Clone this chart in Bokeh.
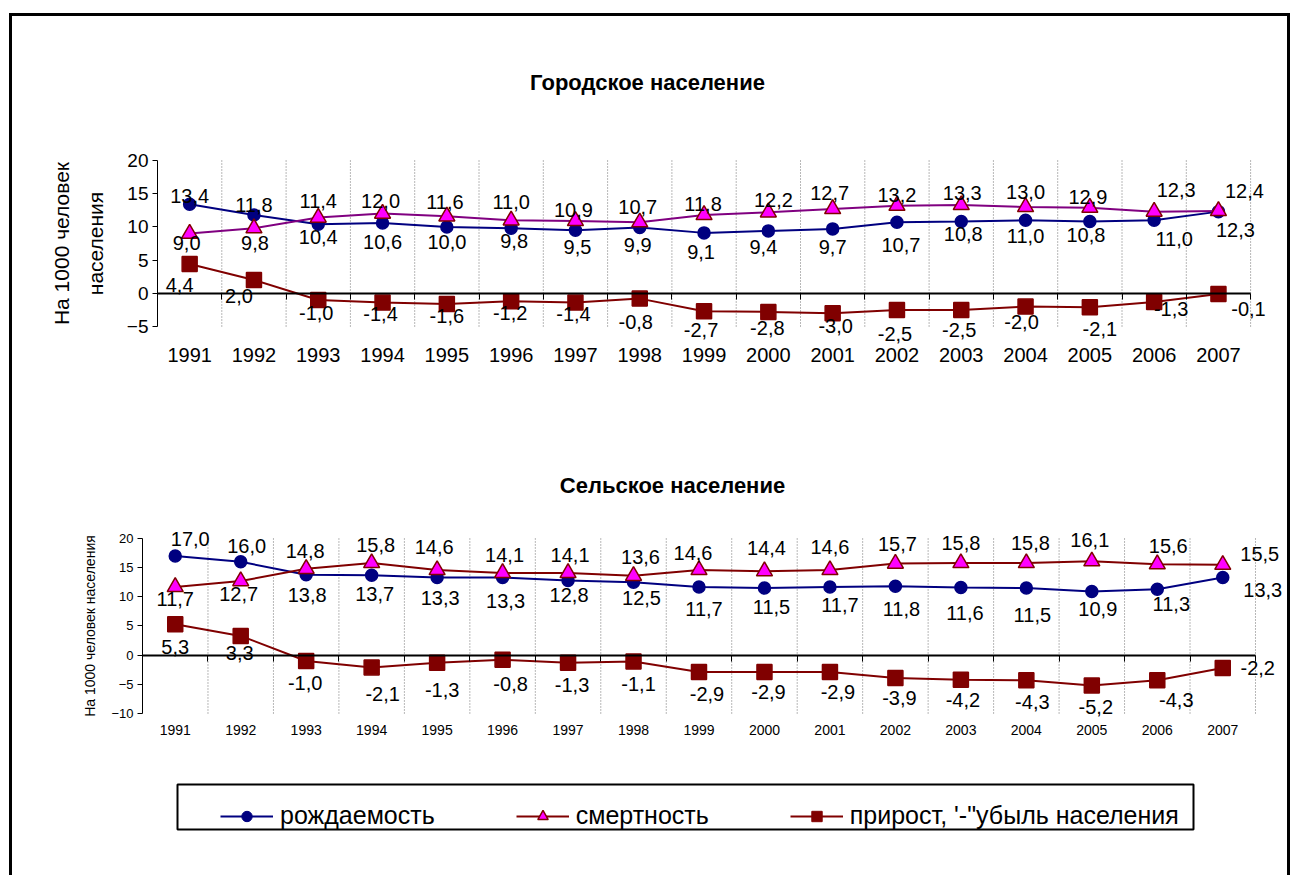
from bokeh.plotting import figure
from bokeh.models import (ColumnDataSource, Range1d, FixedTicker, LinearAxis,
                          Legend, LegendItem, BoxAnnotation)
from bokeh.layouts import column
from bokeh.embed import file_html
from bokeh.resources import INLINE
from bokeh.core.properties import value

# ---------------- data ----------------
years = [str(y) for y in range(1991, 2008)]

urban_births = [13.4, 11.8, 10.4, 10.6, 10.0, 9.8, 9.5, 9.9, 9.1, 9.4, 9.7, 10.7, 10.8, 11.0, 10.8, 11.0, 12.3]
urban_deaths = [9.0, 9.8, 11.4, 12.0, 11.6, 11.0, 10.9, 10.7, 11.8, 12.2, 12.7, 13.2, 13.3, 13.0, 12.9, 12.3, 12.4]
urban_growth = [4.4, 2.0, -1.0, -1.4, -1.6, -1.2, -1.4, -0.8, -2.7, -2.8, -3.0, -2.5, -2.5, -2.0, -2.1, -1.3, -0.1]

rural_births = [17.0, 16.0, 13.8, 13.7, 13.3, 13.3, 12.8, 12.5, 11.7, 11.5, 11.7, 11.8, 11.6, 11.5, 10.9, 11.3, 13.3]
rural_deaths = [11.7, 12.7, 14.8, 15.8, 14.6, 14.1, 14.1, 13.6, 14.6, 14.4, 14.6, 15.7, 15.8, 15.8, 16.1, 15.6, 15.5]
rural_growth = [5.3, 3.3, -1.0, -2.1, -1.3, -0.8, -1.3, -1.1, -2.9, -2.9, -2.9, -3.9, -4.2, -4.3, -5.2, -4.3, -2.2]

urban_yticks = [-5, 0, 5, 10, 15, 20]
rural_yticks = [-10, -5, 0, 5, 10, 15, 20]

title_urban = "Городское население"
title_rural = "Сельское население"
ylabel_urban = "На 1000 человек\nнаселения"
ylabel_rural = "На 1000 человек населения"
legend_labels = ["рождаемость", "смертность", "прирост, '-\"убыль населения"]

# ------------- label placement (pixel offsets, dx right / dy down) -------------
ub_off = [(0, -8), (0, -10), (0, 13), (0, 19), (0, 15), (3, 13), (2, 17), (-2, 17), (-3, 19),
          (-5, 16), (0, 18), (4, 23), (2, 12), (0, 16), (-4, 13), (20, 19), (17, 18)]
ud_off = [(-3, 9), (1, 15), (0, -17), (-2, -13), (-2, -14), (0, -18), (-2, -11), (-2, -15), (-1, -11),
          (5, -12), (-3, -16), (0, -11), (1, -12), (0, -15), (-2, -11), (22, -22), (26, -20)]
ug_off = [(-10, 21), (-15, 16), (-2, 13), (-2, 11), (0, 12), (-1, 12), (-2, 11), (-4, 23), (-3, 19),
          (-1, 16), (3, 13), (-2, 24), (-2, 20), (-4, 15), (10, 22), (17, 7), (30, 15)]
rb_off = [(15, -17), (6, -16), (1, 20), (3, 19), (3, 20), (3, 23), (1, 15), (8, 16), (5, 22),
          (7, 19), (10, 18), (6, 23), (4, 26), (6, 27), (6, 17), (14, 15), (40, 12)]
rd_off = [(0, 12), (-2, 13), (-1, -18), (4, -18), (-3, -23), (2, -18), (2, -18), (7, -19), (-6, -17),
          (2, -23), (0, -23), (2, -20), (0, -20), (4, -20), (-2, -21), (11, -18), (37, -11)]
rg_off = [(0, 23), (-1, 17), (-1, 22), (11, 27), (5, 27), (8, 24), (4, 22), (5, 22), (8, 22),
          (4, 20), (8, 20), (4, 20), (2, 20), (6, 22), (4, 22), (19, 20), (35, 0)]

FONT = "Liberation Sans"
NAVY = "#000080"
PURPLE = "#800080"
MAROON = "#800000"
MAGENTA = "#FF00FF"

N = len(years)
xpos = [i + 0.5 for i in range(N)]          # category centres on a 0..N band scale
W = 1275


def fmt(v):
    return f"{v:.1f}".replace(".", ",")


def make_chart(fig_h, axis_px, band_px, top_px, ppu, yticks, births, deaths, growth, offs,
               death_line, tick_font, year_font, year_standoff, ylabel, ylabel_font,
               ylabel_standoff, title, title_px):
    ymin, ymax = min(yticks), max(yticks)
    xr = Range1d(-axis_px / band_px, (W - axis_px) / band_px)
    yr = Range1d(ymax - (fig_h - top_px) / ppu, ymax + top_px / ppu)
    p = figure(width=W, height=fig_h, x_range=xr, y_range=yr, toolbar_location=None,
               output_backend="svg", min_border=0)
    p.outline_line_color = None
    p.xgrid.visible = False
    p.ygrid.visible = False

    # category labels under the plot area
    xa = p.xaxis[0]
    xa.fixed_location = ymin
    xa.ticker = FixedTicker(ticks=xpos)
    xa.major_label_overrides = {x: y for x, y in zip(xpos, years)}
    xa.axis_line_color = None
    xa.major_tick_line_color = None
    xa.major_tick_out = 0
    xa.minor_tick_line_color = None
    xa.major_label_text_font = FONT
    xa.major_label_text_font_size = year_font
    xa.major_label_standoff = year_standoff
    xa.major_label_text_color = "black"

    # value axis
    ya = p.yaxis[0]
    ya.fixed_location = 0
    ya.bounds = (ymin, ymax)
    ya.ticker = FixedTicker(ticks=yticks)
    ya.axis_line_color = "black"
    ya.axis_line_width = 1
    ya.major_tick_out = 5
    ya.major_tick_in = 0
    ya.major_tick_line_color = "black"
    ya.minor_tick_line_color = None
    ya.major_label_text_font = FONT
    ya.major_label_text_font_size = tick_font
    ya.major_label_text_color = "black"
    ya.major_label_standoff = 4
    ya.axis_label = ylabel
    ya.axis_label_text_font = FONT
    ya.axis_label_text_font_size = ylabel_font
    ya.axis_label_text_font_style = "normal"
    ya.axis_label_text_color = "black"
    ya.axis_label_text_line_height = 1.45
    ya.axis_label_standoff = ylabel_standoff

    # dotted vertical gridlines between categories
    gx = list(range(1, N + 1))
    p.segment(x0=gx, y0=[ymin] * N, x1=gx, y1=[ymax] * N, line_color="#707070",
              line_width=1, line_dash="1 2")

    # category axis crossing at zero, ticks between categories
    zax = LinearAxis(fixed_location=0, bounds=(0, N),
                     ticker=FixedTicker(ticks=list(range(0, N + 1))),
                     axis_line_color="black", axis_line_width=2,
                     major_tick_out=6, major_tick_in=0, major_tick_line_color="black",
                     major_tick_line_width=1, minor_tick_line_color=None,
                     major_label_overrides={i: "" for i in range(0, N + 1)},
                     major_label_text_font_size="1px")
    p.add_layout(zax, "below")

    ub, ud, ug = offs
    series = [
        (births, NAVY, "circle", 12, NAVY, NAVY, ub),
        (deaths, death_line, "triangle", 16, MAGENTA, MAROON, ud),
        (growth, MAROON, "square", 15, MAROON, MAROON, ug),
    ]
    for vals, lc, mk, sz, fc, ec, off in series:
        src = ColumnDataSource(dict(x=xpos, y=vals, t=[fmt(v) for v in vals],
                                    dx=[o[0] for o in off], dy=[o[1] for o in off]))
        p.line("x", "y", source=src, line_color=lc, line_width=2)
        p.scatter("x", "y", source=src, marker=mk, size=sz, fill_color=fc,
                  line_color=ec, line_width=1.5)
        p.text("x", "y", text="t", x_offset="dx", y_offset="dy", source=src,
               text_align="center", text_baseline="middle", text_font=value(FONT),
               text_font_size="20px", text_color="black")

    tx = (title_px[0] - axis_px) / band_px
    ty = ymax + (top_px - title_px[1]) / ppu
    p.text(x=[tx], y=[ty], text=[title], text_align="center", text_baseline="middle",
           text_font=value(FONT), text_font_size="22px", text_font_style="bold",
           text_color="black")
    return p


p1 = make_chart(404, 145, 64.3, 144, 6.64, urban_yticks,
                urban_births, urban_deaths, urban_growth, (ub_off, ud_off, ug_off), PURPLE,
                "19px", "20px", 21, ylabel_urban, "21px", 17, title_urban, (635, 66))

p2 = make_chart(340, 130, 65.47, 118, 5.833, rural_yticks,
                rural_births, rural_deaths, rural_growth, (rb_off, rd_off, rg_off), MAROON,
                "13px", "14px", 12, ylabel_rural, "14px", 10, title_rural, (660, 65))

# ---------------- legend strip ----------------
H3 = 115
p3 = figure(width=W, height=H3, x_range=Range1d(0, W), y_range=Range1d(0, H3),
            toolbar_location=None, output_backend="svg", min_border=0,
            x_axis_type=None, y_axis_type=None)
p3.outline_line_color = None
p3.grid.visible = False
off = ColumnDataSource(dict(x=[-100], y=[-100]))
l1 = p3.line("x", "y", source=off, line_color=NAVY, line_width=2)
m1 = p3.scatter("x", "y", source=off, marker="circle", size=13, fill_color=NAVY, line_color=NAVY)
l2 = p3.line("x", "y", source=off, line_color=MAROON, line_width=2)
m2 = p3.scatter("x", "y", source=off, marker="triangle", size=17, fill_color=MAGENTA,
                line_color=MAROON, line_width=1.5)
l3 = p3.line("x", "y", source=off, line_color=MAROON, line_width=2)
m3 = p3.scatter("x", "y", source=off, marker="square", size=15, fill_color=MAROON, line_color=MAROON)

p3.add_layout(BoxAnnotation(left=165, right=1181, top=H3 - 24, bottom=H3 - 69,
                            fill_alpha=0, line_color="black", line_alpha=1.0, line_width=2))

legend = Legend(items=[LegendItem(label=value(legend_labels[0]), renderers=[l1, m1]),
                       LegendItem(label=value(legend_labels[1]), renderers=[l2, m2]),
                       LegendItem(label=value(legend_labels[2]), renderers=[l3, m3])],
                orientation="horizontal", location=(208, 45),
                label_text_font=FONT, label_text_font_size="25px", label_text_color="black",
                glyph_width=53, glyph_height=26, label_standoff=7, spacing=81,
                padding=9, margin=0, border_line_color=None, background_fill_alpha=0)
p3.add_layout(legend)

layout = column(p1, p2, p3, spacing=0,
                styles={"margin-left": "9px", "margin-top": "13px",
                        "border-top": "3px solid black", "border-left": "3px solid black",
                        "border-right": "3px solid black"})

open("out.html", "w").write(file_html(layout, INLINE))
